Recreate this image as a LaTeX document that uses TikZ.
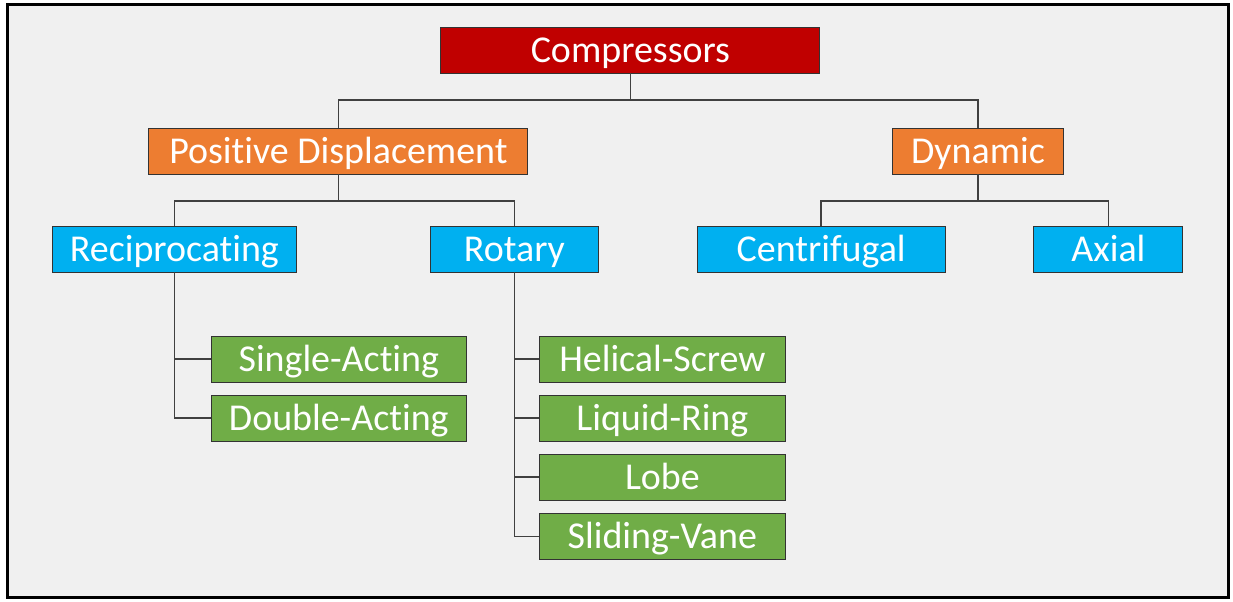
\documentclass[tikz,border=0pt]{standalone}
\usepackage{fontspec}
\setmainfont{Carlito}[Ligatures=NoCommon]
\usepackage{xcolor}
\usepackage{tikz}
\usetikzlibrary{positioning,calc}
\definecolor{rootred}{HTML}{C00000}
\definecolor{classorange}{HTML}{ED7D31}
\definecolor{typeblue}{HTML}{00B0F0}
\definecolor{leafgreen}{HTML}{70AD47}
\definecolor{panelgray}{HTML}{F0F0F0}

\begin{document}
\begin{tikzpicture}[
    box/.style={draw=black!80, line width=0.6pt, minimum height=1.15cm, inner sep=0pt,
        text=white, font=\fontsize{27}{31}\selectfont, text height=17.4pt, text depth=0pt},
    rootbox/.style={box, fill=rootred},
    classbox/.style={box, fill=classorange},
    typebox/.style={box, fill=typeblue},
    leafbox/.style={box, fill=leafgreen, minimum width=6.3cm},
    link/.style={draw=black!75, line width=1.1pt},
]
    \useasboundingbox (0, 0) rectangle (30.825, 15.025);
    \draw[line width=0.075cm, fill=panelgray] (0.1875, 0.0875) rectangle (30.7, 14.9125);

    \node[rootbox, minimum width=9.475cm] (comp) at (15.76, 13.775) {Compressors};

    \node[classbox, minimum width=9.475cm] (posdisp) at (8.46, 11.25) {Positive Displacement};
    \node[classbox, minimum width=4.26cm] (dynamic) at (24.45, 11.25) {Dynamic};

    \node[typebox, minimum width=6.09cm] (recip) at (4.36, 8.8) {Reciprocating};
    \node[typebox, minimum width=4.21cm] (rotary) at (12.86, 8.8) {Rotary};
    \node[typebox, minimum width=6.21cm] (centri) at (20.53, 8.8) {Centrifugal};
    \node[typebox, minimum width=3.725cm] (axial) at (27.71, 8.8) {Axial};

    \node[leafbox, minimum width=6.39cm] (single) at (8.47, 6.05) {Single-Acting};
    \node[leafbox, minimum width=6.39cm] (double) at (8.47, 4.575) {Double-Acting};

    \node[leafbox, minimum width=6.17cm] (helical) at (16.56, 6.05) {Helical-Screw};
    \node[leafbox, minimum width=6.17cm] (liquid) at (16.56, 4.575) {Liquid-Ring};
    \node[leafbox, minimum width=6.17cm] (lobe) at (16.56, 3.1) {Lobe};
    \node[leafbox, minimum width=6.17cm] (sliding) at (16.56, 1.6125) {Sliding-Vane};

    % level links
    \draw[link] (comp.south) -- ++(0,-0.67) -| (posdisp.north);
    \draw[link] (comp.south) -- ++(0,-0.67) -| (dynamic.north);
    \draw[link] (posdisp.south) -- ++(0,-0.66) -| (recip.north);
    \draw[link] (posdisp.south) -- ++(0,-0.66) -| (rotary.north);
    \draw[link] (dynamic.south) -- ++(0,-0.66) -| (centri.north);
    \draw[link] (dynamic.south) -- ++(0,-0.66) -| (axial.north);

    % leaf links
    \draw[link] (recip.south) |- (single.west);
    \draw[link] (recip.south) |- (double.west);
    \draw[link] (rotary.south) |- (helical.west);
    \draw[link] (rotary.south) |- (liquid.west);
    \draw[link] (rotary.south) |- (lobe.west);
    \draw[link] (rotary.south) |- (sliding.west);
\end{tikzpicture}
\end{document}
